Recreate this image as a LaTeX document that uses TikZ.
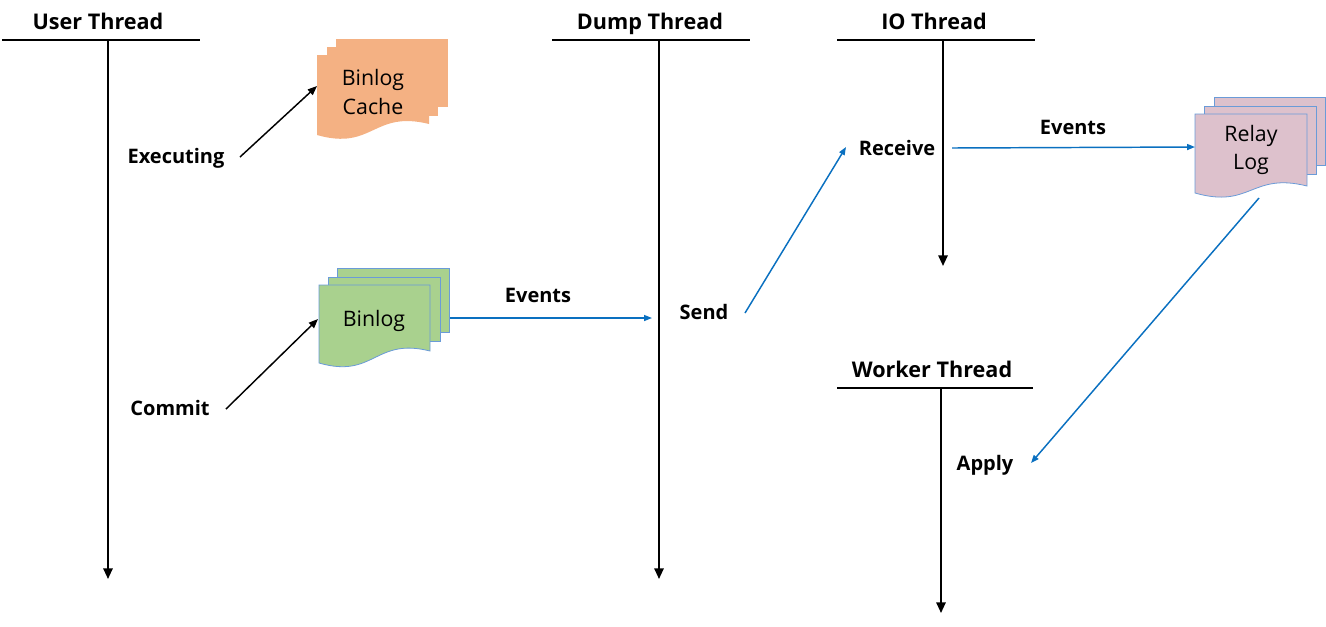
\documentclass[tikz,border=0pt]{standalone}
\usepackage{fontspec}
\setmainfont{Open Sans}
\usetikzlibrary{arrows.meta}
\definecolor{cacheorange}{HTML}{F4B183}
\definecolor{binlogreen}{HTML}{A9D18E}
\definecolor{relaypink}{HTML}{DDC1CC}
\definecolor{edgeblue}{HTML}{6A9BD8}
\definecolor{arrowblue}{HTML}{0A70C0}
\tikzset{
  threadtitle/.style={font=\bfseries\fontsize{16.2}{18}\selectfont, inner sep=0pt, text height=11pt, text depth=3pt},
  threadbar/.style={line width=2.2pt},
  timeline/.style={line width=1.4pt, -{Triangle[length=8pt,width=7pt]}},
  evlabel/.style={font=\bfseries\fontsize{15}{17}\selectfont, inner sep=0pt, text height=10pt, text depth=3pt},
  doclabel/.style={font=\fontsize{16}{21.5}\selectfont, align=center, inner sep=0pt},
  blackarrow/.style={line width=1.1pt, -{Triangle[length=7pt,width=5.5pt]}},
  bluearrow/.style={line width=1.1pt, draw=arrowblue, -{Triangle[length=6pt,width=4.5pt]}},
}
% front page with wavy bottom: #1 l, #2 t, #3 r, #4 bottom-right, #5 bottom-left
\newcommand{\docpage}[6]{%
  \path[#6] (#1,#2) -- (#3,#2) -- (#3,#4)
    .. controls ({(#1+#3)/2},{#4-14}) and ({(#1+#3)/2},{#5+16}) .. (#1,#5) -- cycle;}
\begin{document}
\begin{tikzpicture}[x=0.75pt,y=-0.75pt]
\useasboundingbox (0,0) rectangle (1326,626);

% ---- threads ----
\node[threadtitle] (ut) at (98,24) {User Thread};
\coordinate (utl) at (2,40); \coordinate (utr) at (200,40);
\draw[threadbar] (utl) -- (utr);
\coordinate (uts) at (108,40); \coordinate (ute) at (108,579);
\draw[timeline] (uts) -- (ute);

\node[threadtitle] (dt) at (650,24) {Dump Thread};
\coordinate (dtl) at (552,40); \coordinate (dtr) at (750,40);
\draw[threadbar] (dtl) -- (dtr);
\coordinate (dts) at (659,40); \coordinate (dte) at (659,579);
\draw[timeline] (dts) -- (dte);

\node[threadtitle] (it) at (934,24) {IO Thread};
\coordinate (itl) at (837,40); \coordinate (itr) at (1035,40);
\draw[threadbar] (itl) -- (itr);
\coordinate (its) at (943,40); \coordinate (ite) at (943,266);
\draw[timeline] (its) -- (ite);

\node[threadtitle] (wt) at (932,372) {Worker Thread};
\coordinate (wtl) at (837,388); \coordinate (wtr) at (1033,388);
\draw[threadbar] (wtl) -- (wtr);
\coordinate (wts) at (941,388); \coordinate (wte) at (941,613);
\draw[timeline] (wts) -- (wte);

% ---- Binlog Cache ----
\fill[cacheorange] (336,39) rectangle (448,107);
\fill[cacheorange] (327,47) rectangle (438,116);
\docpage{317}{55}{429}{124}{135}{fill=cacheorange}
\node[doclabel] (cache) at (373,92) {Binlog\\Cache};

% ---- Binlog ----
\filldraw[fill=binlogreen, draw=edgeblue, line width=0.6pt] (337,268) rectangle (449,332);
\filldraw[fill=binlogreen, draw=edgeblue, line width=0.6pt] (328,277) rectangle (440,341);
\docpage{319}{285}{430}{351}{363}{fill=binlogreen, draw=edgeblue, line width=0.6pt}
\node[doclabel] (binlog) at (374,321) {Binlog};

% ---- Relay Log ----
\filldraw[fill=relaypink, draw=edgeblue, line width=0.6pt] (1214,97) rectangle (1325,165);
\filldraw[fill=relaypink, draw=edgeblue, line width=0.6pt] (1204,106) rectangle (1316,174);
\docpage{1195}{114}{1307}{186}{193}{fill=relaypink, draw=edgeblue, line width=0.6pt}
\node[doclabel] (relay) at (1251,150) {Relay\\Log};

% ---- labels ----
\node[evlabel] (exec) at (176,159) {Executing};
\node[evlabel] (commit) at (170,411) {Commit};
\node[evlabel] (ev1) at (538,298) {Events};
\node[evlabel] (send) at (704,315) {Send};
\node[evlabel] (recv) at (897,151) {Receive};
\node[evlabel] (ev2) at (1073,130) {Events};
\node[evlabel] (apply) at (985,466) {Apply};

% ---- arrows ----
\coordinate (a1s) at (240,157); \coordinate (a1e) at (317,86);
\draw[blackarrow] (a1s) -- (a1e);
\coordinate (a2s) at (226,409); \coordinate (a2e) at (318,319);
\draw[blackarrow] (a2s) -- (a2e);
\coordinate (b1s) at (450,318); \coordinate (b1e) at (652,318);
\draw[bluearrow] (b1s) -- (b1e);
\coordinate (b2s) at (745,313); \coordinate (b2e) at (846,147);
\draw[bluearrow] (b2s) -- (b2e);
\coordinate (b3s) at (952,148); \coordinate (b3e) at (1195,147);
\draw[bluearrow] (b3s) -- (b3e);
\coordinate (b4s) at (1259,198); \coordinate (b4e) at (1031,463);
\draw[bluearrow] (b4s) -- (b4e);
\end{tikzpicture}
\end{document}
